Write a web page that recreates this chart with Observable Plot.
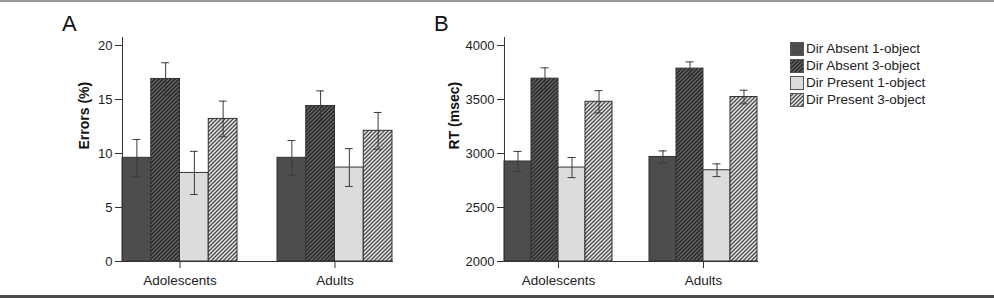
<!DOCTYPE html>
<html>
<head>
<meta charset="utf-8">
<script src="https://cdn.jsdelivr.net/npm/d3@7"></script>
<script src="https://cdn.jsdelivr.net/npm/@observablehq/plot@0.6"></script>
<style>
  html, body { margin: 0; padding: 0; background: #fff; }
  #wrap { position: relative; width: 994px; height: 298px; overflow: hidden; font-family: "Liberation Sans", Arial, sans-serif; color: #222; }
  .border-top { position: absolute; left: 0; top: 0; width: 994px; height: 2px; background: #9a9a9a; }
  .border-bottom { position: absolute; left: 0; top: 295px; width: 994px; height: 3px; background: #4a4a4a; }
  .panel-letter { position: absolute; font-size: 22px; line-height: 1; color: #111; }
  .panel { position: absolute; top: 0; }
  #legend { position: absolute; left: 790px; top: 40px; font-size: 13.5px; color: #222; }
  #legend .row { display: flex; align-items: center; height: 17px; }
  #legend svg { margin-right: 2px; }
</style>
</head>
<body>
<svg width="0" height="0" style="position:absolute">
  <defs>
    <pattern id="hatchDark" patternUnits="userSpaceOnUse" width="4" height="4">
      <rect width="4" height="4" fill="#2c2c2c"></rect>
      <path d="M-1,1 l2,-2 M0,4 l4,-4 M3,5 l2,-2" stroke="#6e6e6e" stroke-width="1.1"></path>
    </pattern>
    <pattern id="hatchLight" patternUnits="userSpaceOnUse" width="4" height="4">
      <rect width="4" height="4" fill="#e6e6e6"></rect>
      <path d="M-1,1 l2,-2 M0,4 l4,-4 M3,5 l2,-2" stroke="#4a4a4a" stroke-width="1.3"></path>
    </pattern>
  </defs>
</svg>
<div id="wrap">
  <div class="border-top"></div>
  <div class="border-bottom"></div>
  <div class="panel-letter" style="left:62px; top:13px;">A</div>
  <div class="panel-letter" style="left:434px; top:13px;">B</div>
  <div id="panelA" class="panel" style="left:0px;"></div>
  <div id="panelB" class="panel" style="left:430px;"></div>
  <div id="legend"></div>
</div>
<script>
// ---- data ----
const groups = ["Adolescents", "Adults"];
const series = ["Dir Absent 1-object", "Dir Absent 3-object", "Dir Present 1-object", "Dir Present 3-object"];
const seriesFills = ["#4d4d4d", "url(#hatchDark)", "#dcdcdc", "url(#hatchLight)"];

const errorsAdolescents = [9.6, 16.9, 8.2, 13.2];
const errorsAdolescentsSE = [1.7, 1.5, 2.0, 1.65];
const errorsAdults = [9.6, 14.4, 8.7, 12.1];
const errorsAdultsSE = [1.6, 1.4, 1.75, 1.7];

const rtAdolescents = [2926, 3693, 2870, 3479];
const rtAdolescentsSE = [93, 100, 93, 103];
const rtAdults = [2968, 3786, 2845, 3523];
const rtAdultsSE = [56, 62, 59, 63];

const errorTicks = [0, 5, 10, 15, 20];
const rtTicks = [2000, 2500, 3000, 3500, 4000];

function table(vals, ses) {
  const rows = [];
  groups.forEach((g, gi) => series.forEach((s, si) => {
    rows.push({group: g, series: s, value: vals[gi][si], lo: vals[gi][si] - ses[gi][si], hi: vals[gi][si] + ses[gi][si]});
  }));
  return rows;
}
const errData = table([errorsAdolescents, errorsAdults], [errorsAdolescentsSE, errorsAdultsSE]);
const rtData = table([rtAdolescents, rtAdults], [rtAdolescentsSE, rtAdultsSE]);

function panel({data, domain, ticks, base, label, width, marginLeft, marginRight, fxPad, capInset, labelDx}) {
  return Plot.plot({
    width, height: 298,
    marginTop: 37, marginBottom: 37, marginLeft, marginRight,
    style: {fontFamily: '"Liberation Sans", Arial, sans-serif', fontSize: "13px", color: "#222", background: "transparent"},
    fx: {domain: groups, paddingInner: fxPad.inner, paddingOuter: fxPad.outer, align: fxPad.align, round: false},
    x: {domain: series, padding: 0, axis: null, round: false},
    y: {domain, insetTop: 8},
    color: {type: "ordinal", domain: series, range: seriesFills},
    marks: [
      Plot.barY(data, {fx: "group", x: "series", y1: base, y2: "value", fill: "series", stroke: "#333", strokeWidth: 1}),
      Plot.ruleX(data, {fx: "group", x: "series", y1: "lo", y2: "hi", stroke: "#3a3a3a", strokeWidth: 1}),
      Plot.tickY(data, {fx: "group", x: "series", y: "hi", insetLeft: capInset, insetRight: capInset, stroke: "#3a3a3a", strokeWidth: 1}),
      Plot.tickY(data, {fx: "group", x: "series", y: "lo", insetLeft: capInset, insetRight: capInset, stroke: "#3a3a3a", strokeWidth: 1}),
      Plot.frame({anchor: "left", facet: "super", stroke: "#333"}),
      Plot.frame({anchor: "bottom", facet: "super", stroke: "#333"}),
      Plot.axisY({ticks, tickFormat: d => String(d), tickSize: 7, tickPadding: 3, stroke: "#333", label: null}),
      Plot.text([label], {facet: "super", frameAnchor: "left", dx: labelDx, rotate: -90, fontWeight: "bold", fontSize: 14, fill: "#111"}),
      Plot.axisFx({anchor: "bottom", label: null, tickSize: 7, tickPadding: 7, fontSize: 13.5, stroke: "#333"})
    ]
  });
}

document.getElementById("panelA").appendChild(panel({
  data: errData, domain: [0, 20], ticks: errorTicks, base: 0, label: "Errors (%)",
  width: 420, marginLeft: 106, marginRight: 22,
  fxPad: {inner: 0.258, outer: 0.071, align: 0.727}, capInset: 10.5, labelDx: -38
}));
document.getElementById("panelB").appendChild(panel({
  data: rtData, domain: [2000, 4000], ticks: rtTicks, base: 2000, label: "RT (msec)",
  width: 340, marginLeft: 61, marginRight: 8,
  fxPad: {inner: 0.255, outer: 0.062, align: 0.722}, capInset: 9.5, labelDx: -50
}));

// legend
const legend = document.getElementById("legend");
series.forEach((s, i) => {
  const row = document.createElement("div");
  row.className = "row";
  row.innerHTML = `<svg width="14" height="14"><rect x="0.5" y="0.5" width="13" height="13" fill="${seriesFills[i]}" stroke="#555"></rect></svg><span>${s}</span>`;
  legend.appendChild(row);
});
</script>
</body>
</html>
